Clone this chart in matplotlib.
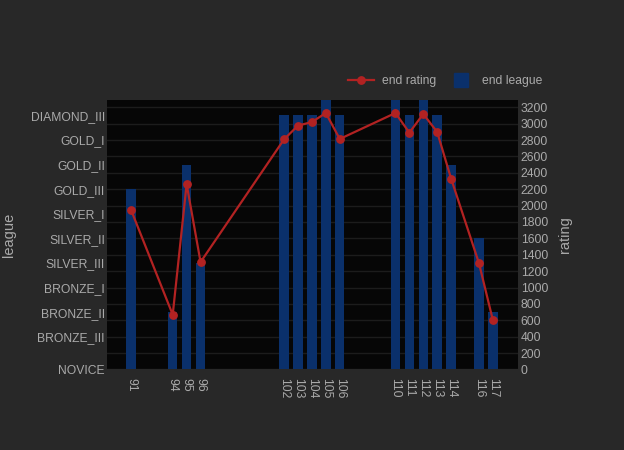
import matplotlib.pyplot as plt
from matplotlib.lines import Line2D
import numpy as np

plt.rcParams['font.family'] = ['Liberation Sans', 'DejaVu Sans']

# match number on x, league bars and end rating line
matches = [91, 94, 95, 96, 102, 103, 104, 105, 106, 110, 111, 112, 113, 114, 116, 117]
end_league = ['GOLD_III', 'BRONZE_II', 'GOLD_II', 'SILVER_III', 'DIAMOND_III', 'DIAMOND_III',
              'DIAMOND_III', 'DIAMOND_II', 'DIAMOND_III', 'DIAMOND_II', 'DIAMOND_III',
              'DIAMOND_II', 'DIAMOND_III', 'GOLD_II', 'SILVER_II', 'BRONZE_II']
end_rating = [1950, 668, 2263, 1310, 2809, 2976, 3020, 3130, 2813, 3130, 2890, 3118, 2898,
              2329, 1298, 602]

# league -> rating threshold used for the left axis
league_names = ['NOVICE', 'BRONZE_III', 'BRONZE_II', 'BRONZE_I', 'SILVER_III', 'SILVER_II',
                'SILVER_I', 'GOLD_III', 'GOLD_II', 'GOLD_I', 'DIAMOND_III', 'DIAMOND_II']
league_values = [0, 400, 700, 1000, 1300, 1600, 1900, 2200, 2500, 2800, 3100, 3400]
league_map = dict(zip(league_names, league_values))

fig_bg = '#282828'
plot_bg = '#060606'
text_c = '#aaaaaa'
bar_c = '#0a306b'
line_c = '#b22222'

fig = plt.figure(figsize=(6.24, 4.5), dpi=100, facecolor=fig_bg)
ax2 = fig.add_axes([0.1715, 0.179, 0.6585, 0.599])
ax = ax2.twinx()
ax.set_zorder(ax2.get_zorder() + 1)
ax.patch.set_visible(False)
ax2.set_facecolor(plot_bg)

ymax = 3290
ax.bar(matches, [league_map[l] for l in end_league], width=0.68, color=bar_c,
       label='end league', zorder=2)
line, = ax.plot(matches, end_rating, color=line_c, lw=1.6, marker='o', ms=5.3,
                label='end rating', zorder=3)

for a in (ax, ax2):
    a.set_xlim(89.28, 118.8)
    a.set_ylim(0, ymax)
    for s in a.spines.values():
        s.set_visible(False)
    a.tick_params(length=0, colors=text_c, labelsize=8.7)

# left: leagues
ax.yaxis.tick_left()
ax.yaxis.set_label_position('left')
ax.set_yticks(league_values[:-1])
ax.set_yticklabels(league_names[:-1])
ax.tick_params(axis='y', pad=1.5)
ax.set_ylabel('league', color=text_c, fontsize=10.5)
ax.yaxis.set_label_coords(-0.222, 0.5)

# right: rating
ax2.yaxis.tick_right()
ax2.yaxis.set_label_position('right')
ax2.set_yticks(np.arange(0, 3201, 200))
ax2.tick_params(axis='y', pad=2)
ax2.set_ylabel('rating', color=text_c, fontsize=10.5)
ax2.yaxis.set_label_coords(1.097, 0.5)
ax2.grid(axis='y', color='#1c1c1c', lw=1)
ax2.set_axisbelow(True)

ax2.set_xticks(matches)
ax2.set_xticklabels([str(m) for m in matches], rotation=-90)
ax2.tick_params(axis='x', pad=6)

league_handle = Line2D([], [], ls='none', marker='s', ms=10, color=bar_c)
fig.legend(handles=[line, league_handle], labels=['end rating', 'end league'], ncol=2,
           loc='center left', bbox_to_anchor=(0.540, 0.819), frameon=False,
           labelcolor=text_c, fontsize=8.7, handlelength=2.2, columnspacing=1.0,
           handletextpad=0.6)

fig.savefig('out.png', dpi=100, facecolor=fig_bg)
